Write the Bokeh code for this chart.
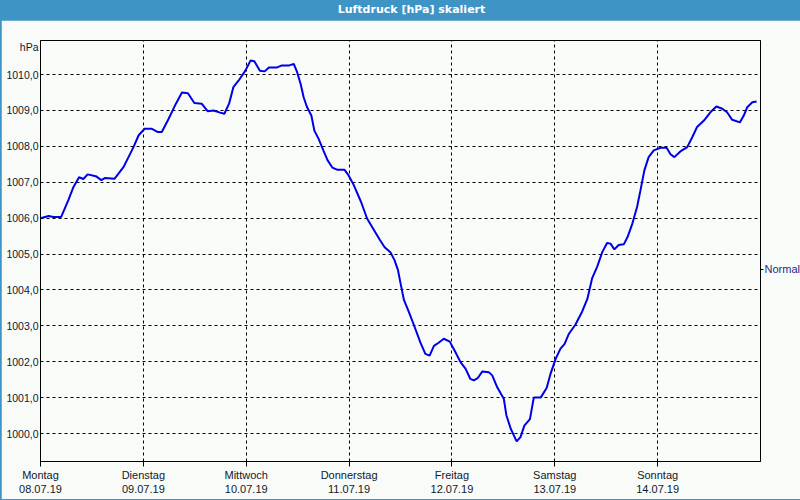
from bokeh.plotting import figure
from bokeh.models import (Range1d, FixedTicker, LinearAxis, Div, ColumnDataSource)
from bokeh.layouts import column
from bokeh.embed import file_html
from bokeh.resources import INLINE

# ---- data (hours since Monday 08.07.19 00:00, pressure in hPa) ----
hours = [0.0, 1.9, 3.0, 4.8, 6.5, 7.7, 9.0, 10.0, 11.0, 12.9, 14.2, 15.1, 17.3, 19.4,
         21.7, 22.9, 24.3, 26.0, 27.4, 28.3, 29.9, 31.6, 33.0, 34.4, 35.9, 37.6, 39.0,
         40.4, 41.9, 42.9, 44.0, 45.0, 46.2, 47.8, 49.0, 49.9, 51.2, 52.3, 53.3, 55.2,
         56.2, 57.9, 59.1, 59.9, 60.7, 61.4, 62.2, 63.2, 63.9, 64.9, 66.0, 67.0, 68.1,
         69.2, 70.9, 71.9, 73.1, 74.8, 76.2, 77.8, 79.2, 80.3, 81.7, 82.6, 83.4, 84.0,
         84.8, 85.9, 87.1, 88.7, 89.8, 90.8, 91.8, 92.9, 94.1, 95.5, 96.8, 98.0, 99.2,
         100.3, 101.1, 102.0, 103.1, 104.6, 105.4, 106.6, 108.1, 108.7, 109.7, 111.1,
         112.0, 112.9, 114.2, 115.1, 116.7, 118.1, 119.0, 120.2, 121.3, 122.3, 123.3,
         124.8, 126.4, 127.6, 128.7, 129.9, 131.1, 132.2, 133.0, 133.9, 134.9, 136.1,
         137.0, 138.1, 139.2, 140.0, 140.9, 141.9, 143.1, 144.7, 146.1, 147.0, 147.9,
         149.3, 150.9, 152.1, 153.2, 154.8, 156.3, 157.7, 159.1, 160.2, 161.4, 163.2,
         164.1, 164.9, 166.1, 167.1]
pressure = [1006.00, 1006.06, 1006.03, 1006.03, 1006.50, 1006.87, 1007.14, 1007.09,
            1007.22, 1007.17, 1007.06, 1007.12, 1007.10, 1007.43, 1007.98, 1008.31,
            1008.49, 1008.49, 1008.40, 1008.40, 1008.77, 1009.19, 1009.50, 1009.48,
            1009.21, 1009.19, 1008.98, 1009.00, 1008.94, 1008.91, 1009.19, 1009.65,
            1009.83, 1010.11, 1010.39, 1010.37, 1010.11, 1010.09, 1010.20, 1010.20,
            1010.25, 1010.25, 1010.30, 1010.06, 1009.74, 1009.37, 1009.09, 1008.86,
            1008.44, 1008.21, 1007.89, 1007.61, 1007.41, 1007.35, 1007.35, 1007.19,
            1006.92, 1006.45, 1005.99, 1005.67, 1005.39, 1005.19, 1005.04, 1004.83,
            1004.56, 1004.19, 1003.72, 1003.40, 1003.03, 1002.52, 1002.22, 1002.17,
            1002.44, 1002.53, 1002.64, 1002.56, 1002.27, 1001.99, 1001.80, 1001.52,
            1001.48, 1001.54, 1001.73, 1001.71, 1001.62, 1001.28, 1000.97, 1000.51,
            1000.14, 999.78, 999.90, 1000.22, 1000.40, 1001.00, 1001.00, 1001.27,
            1001.66, 1002.08, 1002.36, 1002.50, 1002.78, 1003.03, 1003.40, 1003.75,
            1004.32, 1004.65, 1005.06, 1005.31, 1005.29, 1005.13, 1005.25, 1005.27,
            1005.48, 1005.85, 1006.31, 1006.78, 1007.33, 1007.70, 1007.89, 1007.96,
            1007.96, 1007.78, 1007.70, 1007.86, 1007.98, 1008.26, 1008.54, 1008.72,
            1008.95, 1009.11, 1009.05, 1008.95, 1008.74, 1008.67, 1008.86, 1009.09,
            1009.23, 1009.25]

day_ticks = [0, 24, 48, 72, 96, 120, 144]
day_names = ["Montag", "Dienstag", "Mittwoch", "Donnerstag", "Freitag", "Samstag", "Sonntag"]
day_dates = ["08.07.19", "09.07.19", "10.07.19", "11.07.19", "12.07.19", "13.07.19", "14.07.19"]
y_ticks = [1000, 1001, 1002, 1003, 1004, 1005, 1006, 1007, 1008, 1009, 1010]
normal_value = 1004.57
unit_pos = 1010.78
title_text = "Luftdruck [hPa] skaliert"
unit_text = "hPa"

FONT = "Liberation Sans"
TXT = "#10182a"
BG = "#f9fbf9"
BAR = "#3d94c5"

p = figure(frame_width=720, frame_height=421, output_backend="svg", toolbar_location=None,
           x_range=Range1d(0, 168), y_range=Range1d(999.22, 1010.95),
           min_border_left=39, min_border_right=39, min_border_top=20, min_border_bottom=38,
           background_fill_color=BG, border_fill_color=BG, margin=(0, 1, 1, 1))
p.outline_line_color = "black"
p.outline_line_width = 1

src = ColumnDataSource(dict(x=hours, y=pressure))
p.line("x", "y", source=src, line_color="#0000e6", line_width=2)

# x axis
xa = p.xaxis[0]
xa.ticker = FixedTicker(ticks=day_ticks)
xa.major_label_overrides = {t: f"{n}\n{d}" for t, n, d in zip(day_ticks, day_names, day_dates)}
xa.major_tick_out = 5
xa.major_tick_in = 0
xa.minor_tick_out = 0
xa.minor_tick_in = 0
xa.major_label_standoff = 2
xa.major_label_text_font = FONT
xa.major_label_text_font_size = "11px"
xa.major_label_text_color = TXT
xa.axis_line_color = "black"
xa.major_tick_line_color = "black"

# y axis (unit label "hPa" shown as a label at the top of the axis)
ya = p.yaxis[0]
ya.ticker = FixedTicker(ticks=y_ticks + [unit_pos])
overrides = {t: f"{t},0" for t in y_ticks}
overrides[unit_pos] = unit_text
ya.major_label_overrides = overrides
ya.major_tick_out = 0
ya.major_tick_in = 0
ya.minor_tick_out = 0
ya.minor_tick_in = 0
ya.major_label_standoff = 2
ya.major_label_text_font = FONT
ya.major_label_text_font_size = "10.5px"
ya.major_label_text_color = TXT
ya.axis_line_color = "black"

# right axis with "Normal"
ra = LinearAxis(ticker=FixedTicker(ticks=[normal_value]),
                major_label_overrides={normal_value: "Normal"},
                major_tick_out=3, major_tick_in=0, minor_tick_out=0, minor_tick_in=0,
                major_label_standoff=1, major_label_text_font=FONT,
                major_label_text_font_size="11px", major_label_text_color="#1c2c86",
                axis_line_color="black")
p.add_layout(ra, "right")

# grids
p.xgrid.ticker = FixedTicker(ticks=day_ticks)
p.ygrid.ticker = FixedTicker(ticks=y_ticks)
for g in (p.xgrid[0], p.ygrid[0]):
    g.grid_line_color = "black"
    g.grid_line_dash = "3 3"
    g.grid_line_width = 1

title = Div(text=title_text, width=800, height=20, margin=0,
            styles={"background-color": BAR, "color": "white", "font-family": "DejaVu Sans",
                    "font-weight": "bold", "font-size": "11px", "text-align": "center",
                    "line-height": "20px", "padding-left": "23px", "box-sizing": "border-box",
                    "overflow": "hidden"})

layout = column(title, p, spacing=0, margin=0,
                styles={"background-color": BAR})

open("out.html", "w").write(file_html(layout, INLINE))
